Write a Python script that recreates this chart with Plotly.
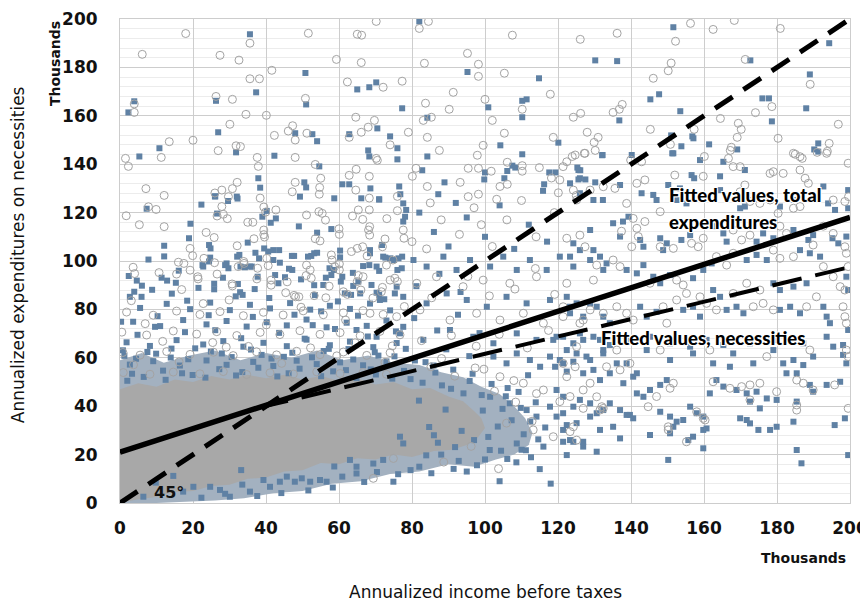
import plotly.graph_objects as go

# ---------------- data (thousands) ----------------
# Necessities (filled squares)
nec_top = [(35.6,193.7),(37.3,169.7),(26.3,166.2),(3.9,166),(2.3,161.4),(26.9,153.2),(48,152.8),(10.8,146.6),(31.8,144.9),(5.3,143.2),(42.3,143.5),(37.9,134.2),(38.4,130.3),(26,126.7),(32,126.6),
 (82,199),(130.2,182.9),(50.8,177.7),(95.2,178.1),(114.8,175.5),(65,170.9),(68.3,171.8),(70.2,173.8),(51,164.7),(77.3,163.1),(100.9,163.5),(110.2,166.2),(111.4,166.8),(110.2,159.4),(84.2,159.2),(52.7,152.4),(54,149.5),(62.8,152.4),(70.5,154.8),(74,151.5),(120.1,148.9),(76,146.6),(68,145.7),(68.3,143.2),(76,142),(84.2,143.2),(104.2,147.8),(110.2,144.1),(54.6,139.1),(82.8,137.5),(50.5,132.5),(51,130.4),(60.9,131.7),(62.8,131.7),(68.6,130),(100,136.6),(99.8,133.7),(106.1,137.2),(105.3,134.2),(107.5,139.4),(108.3,138.6),(117.6,136.6),(119.3,136.6),(116.2,131.7),(115.9,129),(125.3,138.6),(126.1,137.5),(125.6,133.7),(127.5,133.7),(130.2,132.5),(88.9,132.5),(87.2,127.6),(76.5,130.8),(76.8,127.6),(58.7,125.9),(66.1,125.9),(71,125.5),
 (151.6,196.6),(136.2,182.6),(172.7,182.9),(194.3,190),(189,177.1),(145.3,166.8),(147.7,168.9),(136.8,158.1),(153.5,161.9),(176,167.2),(177.8,167.2),(188,163.1),(178.6,157.7),(151,151.9),(156.8,151.5),(157.1,150.7),(153.8,147.4),(151.3,144.5),(161.4,148.2),(169.1,146.1),(191.3,148.6),(190.2,146.1),(132.1,143.7)]
nec_upper_left = [(49.3,126.6),(71,125.4),(7.3,121.6),(19.3,115.4),(22.3,123.3),(26.1,126.7),(29.6,124.8),(32.2,125.8),(26.6,119.6),(39,118.3),(40.2,120.7),(41.3,115.8),(42.7,117.6),(49,114.3),(57.9,113.2),(54,111.7),(77.6,123.8),(78.4,121.1),(78.1,118.3),(77.6,116.3),(18.9,109.4),(24.4,106.6),(24.8,105.2),(12.1,106.3),(12.1,101.9),(7.8,100.6),(4.6,91.9),(6,89.8),(3.9,87.3),(2.7,85.2),(5.9,85.2),(11.4,93.1),(12.9,91.9),(15.3,91),(16.1,96),(22.6,98.3),(22.8,97.7),(24.7,101.4),(24.4,99.8),(25.8,90.6),(25.8,88.3),(29.2,99),(29.7,97),(28.8,98.3),(32.1,101.8),(32.7,102.5),(33,97.7),(34.2,97.4),(35,107.6),(32.3,90.5),(32.9,87.1),(33.6,86),(37.1,103.4),(36.1,97.7),(35.6,97.7),(37.7,93.5),(39.5,105.2),(38.1,101.1),(40.6,103.9),(42,104.5),(43.6,104.5),(42,100.4),(43.8,99.3),(42.5,94.2),(43.4,90.8),(47.1,102.1),(47.7,102.1),(47.2,96.3),(45.2,93.3),(49.6,92.4),(51.5,101.8),(52.4,102.1),(53.2,103.2),(53.2,90),(54,103.4),(55.7,90.1),(56.4,93.1),(57.4,97),(58.6,96.3),(57.9,94.2),(60.3,104.3),(60.3,101.5),(60.9,93.5),(60.5,91.5),(61.6,86.6),(63.3,86),(63.9,89.7),(65.3,91.5),(66.6,97.9),(68.3,98.3),(68.5,104.5),(68.5,103.2),(68.9,90.1),(70.3,97.7),(71,95.9),(71.8,106.6),(72.1,101.8),(72.7,101.4),(74,101.1),(75.1,100.4),(76.3,101.1),(77.3,101.8),(76,96.3),(77.2,97),(75.8,89.4),(75.3,86.6),(70.3,86.9),(71,86),
 (82,120),(86,112),(90,106),(95,118),(100,110),(104,123),(108,105),(112,115),(117,108),(92,124)]
nec_right = [(132.2,143.8),(140.2,143.8),(151.6,144.5),(158.9,141.7),(165.3,141),(171.2,137.6),(191.3,145.2),(125.6,137.6),(126,134.2),(137,131.4),(146.1,127.3),(150.2,131.4),(153.4,130),(156.6,135.5),(157.3,134.2),(164.4,135),(164.4,129.3),(192.7,130.8),(199.5,129.3),(199.5,121.8),(123.3,132.1),(129.7,125.2),(132.3,125.2),(126,128),(142.9,128),(139.3,118.3),(152.5,125.2),(155.2,123.8),(147,125.2),(169.9,121.8),(171.2,122.5),(180.8,122.5),(184.5,125.2),(194,123.8),(195.9,121.1),
 (128.8,112.8),(135.1,115.6),(137.8,116.3),(137,110.1),(142.5,108.7),(143.4,105.9),(148,109.4),(149.8,107.3),(148.8,104.5),(153.8,108.7),(156.2,110.7),(162.5,114.4),(165.3,111.4),(166.2,108),(174.4,108),(176.2,111.4),(179,109.4),(184.5,112.8),(188.6,108.7),(189.9,110.7),(195.2,109.4),(196.8,107.3),(199,110.1),(124.2,107.3),(126,104.5),(123.3,101.8),(129.7,104.5),(131.5,101.8),(133.3,99),(138.8,96.3),(141.6,94.9),(143.4,98.3),(146.1,93.5),(148,90.8),(150.7,94.2),(157,92.9),(159.8,96.3),(162.1,99),(171.7,100.4),(174.4,102.5),(177.2,100.4),(186.3,104.5),(189,103.2),(191.8,101.8),(199,93.5),(199.5,88),(179,90.8),(180.8,88),(184.5,89.4),(188.1,90.8),(162.5,88),(164.4,85.2),
 (122.4,85.2),(125.1,82.5),(123.3,78.4),(126.9,77),(130.6,81.1),(132.4,77),(134.2,74.3),(142.5,81.1),(144.3,77),(147,79),(154.3,79.8),(157,81.1),(158.9,77),(166.2,79.8),(168.9,81.1),(170.8,78.4),(180.8,79.8),(183.6,81.1),(186.3,78.4),(192.7,81.1),(193.6,77),(194.5,74.3),(199.5,71.5),
 (122.4,63.2),(127.8,60.5),(132.4,61.8),(138.8,57.7),(144.3,63.2),(150.7,59.1),(157,61.8),(162.5,57.7),(168,61.8),(173.5,57.7),(179,63.2),(184.5,59.1),(189.9,60.5),(195.4,64.6),(199,57.7),
 (118.7,67.4),(121.4,68.7),(124.2,66),(126.9,67.4),(129.7,68.7),(134.2,65.3),(138.8,67.4),(145.2,68.7),(150.7,66),(156.2,64.6),(160.7,67.4),(165.3,65.3),(172.6,66),(179.9,67.4),(187.2,66),(193.6,68.7),(198.1,65.3)]
nec_lower_right = [(120.5,59.1),(119.2,56.3),(122.4,54.3),(124.2,58.4),(126.9,53.6),(129.7,55),(131.5,50.8),(134.2,53.6),(136.1,57.7),(137.9,49.5),(140.6,52.2),(141.6,53.6),(119.6,46.7),(121.4,43.9),(124.2,39.8),(126,42.6),(128.8,41.2),(130.6,37.1),(132.4,38.4),(134.2,41.2),(137,38.4),(139.7,36.4),(119.6,35.7),(121.4,30.2),(123.3,26),(124.2,25.3),(126.9,25.3),(122.4,32.2),(130.6,21.2),(122.4,19.8),(135.1,31.5),(137,26.7),(138.8,36.4),(140.6,35),(141.6,45.3),(143.4,43.9),(145.2,46.7),(148,48.8),(149.8,50.8),(148,37.7),(150.7,35.7),(151.6,31.5),(150.7,28.8),(152.5,33.6),(150.2,17.8),(145.2,28.1),(154.3,34.3),(156.2,39.8),(158,37.1),(159.8,35.7),(157,27.4),(155.7,26),(159.8,30.2),(160.7,30.8),(159.8,22.6),(161.6,45.3),(163.4,50.8),(165.3,48.1),(168.9,46.7),(167.1,56.3),(171.7,45.3),(174.4,46),(172.6,41.9),(175.3,39.1),(177.2,43.2),(179.9,42.6),(169.9,35),(171.7,34.3),(172.6,32.9),(174.9,30.2),(178.1,30.2),(179.9,31.5),(185.4,41.9),(184.5,33.6),(185.4,21.9),(186.7,16.4),(181.7,57.7),(182.6,53.6),(185.4,53.6),(187.2,57),(189,48.8),(189.9,46),(193.6,48.8),(197.3,50.1),(195.8,32.2),(198.6,35),(199.5,19.8),(198.1,61.2)]
nec_middle = [(80.4,100.4),(84,97.7),(88.6,101.8),(92.2,96.3),(95.9,100.4),(101.4,97.7),(105,101.8),(108.7,96.3),(112.3,100.4),(116.9,96.3),(120.5,101.8),(124.2,97.7),(128.8,100.4),(132.4,96.3),
 (65.8,86.6),(71.2,83.9),(77.6,85.2),(84,82.5),(89.5,86.6),(95,83.9),(100.5,81.1),(105.9,85.2),(111.4,82.5),(117.8,83.9),(123.3,81.1),(128.8,82.5),
 (64.8,71.5),(70.3,68.7),(76.7,70.1),(83.1,67.4),(90.4,71.5),(96.8,68.7),(102.3,66),(108.7,70.1),(114.1,67.4),(119.6,68.7),(126,70.1),(131.5,67.4),
 (102.3,60.5),(105.9,57.7),(108.7,61.8),(112.3,59.1),(115.1,56.3),(117.8,60.5),(121.4,57.7),(125.1,61.8),(128.8,59.1),(132.4,63.2),
 (101.4,43.9),(106.8,41.2),(111.4,38.4),(114.1,35.7),(117.8,39.8),(121.4,37.1),(125.1,33),(128.8,35.7),(131.5,30.2),
 (108.7,24.6),(116,23.3),(121.4,25.3),(126.9,23.3)]
nec_left = [(5.5,80.6),(12.8,82.3),(19.2,80.1),(24.7,82.8),(30.1,79.7),(35.6,81.9),(41.1,80.4),(46.6,82.6),(52.1,79.9),(57.5,81.5),(63,80.2),(68.5,82.4),(74,79.6),
 (3.6,74.9),(11,73.1),(17.3,75.6),(23.7,73.8),(29.2,75.2),(34.7,72.9),(40.2,74.7),(45.7,73.4),(51.1,75.8),(56.6,72.6),(62.1,74.5),(67.6,73.2),(73,75.4),(77.6,72.8),
 (1.8,66.4),(8.2,64.9),(15.5,67.3),(22.8,65.5),(28.3,66.9),(33.8,64.6),(39.3,66.2),(45.7,64.8),(51.1,67.5),(57.5,65.2),(63,66.7),(69.4,64.4),(75.8,66.1),
 (2.7,57.2),(9.1,58.6),(16.4,56.8),(23.7,58.9),(29.2,57.1),(36.5,58.3),(42,56.6),(48.4,58.8),(53.9,57.4),(60.3,58.1),(66.6,56.9),(73,58.5),(0.3,74.9),
 (24.7,6.7),(27.4,5.4),(30.1,2.6),(35.6,4.7),(39.3,9.5),(43.8,8.8),(45.7,10.9),(47.9,8.8),(49.8,10.2),(52.1,8.8),(54.8,9.5),(56.6,8.8),(41.1,6.7),(64.8,12.2),(69.4,16.3),(72.1,17.8),(74.9,8.8),(63,17.8),(64.8,15),(76.7,27.4),(77.6,24.6),(6.4,2.6),(20.1,6.7),(17.3,4.7),
 (82,15),(88,20),(91.8,23.1),(95,13),(100,18),(104,9),(110,22),(115,14),(118,8),(86,28),(97,26)]
nec_dense = [(1.2,60.8),(4.8,69.5),(7.5,62.4),(10.3,77.2),(13.9,60.1),(14.2,86.5),(17.8,70.6),(20.6,63.9),(21.5,88.9),(26.1,71.4),(27.9,61.8),(31.7,85.4),(33.2,68.1),(36.4,76.9),(38.8,61.2),(40.9,84.7),(43.6,70.3),(44.9,60.4),(47.8,77.8),(50.6,67.9),(53.4,85.9),(55.8,62.8),(58.9,71.9),(59.7,83.3),(62.6,63.6),(65.2,77.4),(67.9,68.8),(70.8,60.9),(72.4,84.2),(75.6,70.9),(78.3,63.7),(80.6,76.4),(83.7,58.2),(86.9,71.3),(89.4,63.5),(92.6,77.8),(95.7,60.7),(98.5,70.2),(2.4,93.8),(8.8,88.1),(18.4,83.6),(28.2,93.1),(36.9,88.4),(46.3,96.8),(55.1,79.2),(63.8,95.1),(9.6,72.8),(24.3,77.6),(52.8,73.5),(81.2,89.6),(87.5,94.7),(93.3,87.2),
 (3.3,53.4),(11.8,54.7),(19.9,52.9),(33.5,54.1),(46.2,53.6),(58.4,54.4),(70.1,53.1),(79.6,51.2),(88.2,48.6),(94.1,45.3),(99.4,38.2),(103.5,31.6),(106.2,47.5),(111.8,52.8),(9.8,8.4),(14.6,11.2),(33.2,13.6),(58.7,15.1),(83.9,19.7),(92.8,17.4),(101.3,21.9),(108.6,16.8)]
nec_fringe = [(2,50.5),(6.5,52.1),(12.5,50.9),(17,53.6),(23.4,51.8),(27.2,55.3),(31.8,52.7),(37.9,55.9),(43.1,52.3),(49.2,55.5),(55.1,52.4),(61.9,54.9),(64.8,51.6),(68.7,55.2),(74.6,51.4),(77.8,54.6),(82.9,49.7),(86.4,53.9),(90.7,47.2),(95.8,50.4),(99.1,44.6),(104.8,38.9),(107.3,34.2),(110.6,28.4),(113.9,41.6),(116.5,31.2),(109.2,45.9),(100.9,27.3),(104.4,21.6),(112.6,18.9),(97.8,15.6),(91.4,14.1),(85.3,12.3),(79.6,13.6),(76.2,11.9),(70.4,12.8),(66.9,8.7),(60.9,10.9),(58.3,6.4),(51.6,5.2),(44.2,4.1),(37.6,2.9),(33.5,7.6),(28.8,3.8),(22.3,2.2),
 (0.8,63.1),(4.4,59.6),(9.9,61.7),(14.1,63.8),(18.7,59.4),(24.9,62.6),(30.6,60.3),(35.9,63.4),(41.5,59.7),(47.2,62.1),(52.6,60.2),(57.2,63.7),(63.9,59.3),(69.8,62.3),(75.2,60.6),(80.8,58.9),(85.9,56.8),(91.3,55.1),(96.6,53.4),(101.8,49.2),(105.7,44.1),(109.8,39.3),(112.4,33.7),(114.6,26.3),(111.2,21.8),(106.1,18.2),
 (84.7,31.4),(89.2,38.6),(93.6,29.8),(81.9,42.3),(87.1,24.9)]

# Total expenditures (open circles)
tot_top = [(18,194),(35.6,190),(6.1,185.4),(27.4,185),(32.6,183),(41.6,178.8),(35.6,175.3),(38.2,175.3),(26.3,168),(30.8,166.8),(3.9,164.9),(3.9,161.4),(34.5,160.6),(40.1,160.2),(30.1,156.5),(42.3,151.9),(46.1,153.7),(47.3,155.9),(48,150),(13.5,149.3),(20,149.9),(26.9,145.6),(31.8,147.6),(33,147.3),(1.5,142.4),(2.3,139.1),(11.3,142.8),(37.6,142.8),(37.9,139.1),(48,142.8),(48,132.5),(32.1,132.5),(7.1,129.9),(12.1,127.1),(26,128.1),(27.9,129.3),(30.8,129.9),(29.7,126.6),(47.2,128.6),
 (51.6,194.1),(65,193.7),(66.2,193.3),(70.2,199),(84.5,199),(82,196.1),(107.5,193.3),(126.1,191.6),(59.3,183.3),(66.1,182),(83.4,181.7),(95.2,185.8),(98.2,181.3),(98.2,176.3),(105.3,177.6),(62.3,174),(72.1,171.8),(77.3,174.3),(91.3,169.7),(117.9,168.9),(50.8,167.2),(83.7,165.2),(90.2,162.7),(100,166.8),(110.2,162.7),(124.2,159.4),(126.2,161),(64.6,159.4),(69.7,158.1),(83.1,158.1),(85.3,159.4),(102,158.1),(51.2,152.8),(62.8,151.1),(66.1,153.2),(68,155.3),(79,153.2),(84.2,151.1),(105.3,152.8),(118.7,151.1),(128,153.2),(129.9,149),(130.2,145.7),(131,151.1),(74,148),(70.2,142.4),(70.5,141.6),(87.5,145.7),(99.5,147.8),(97.9,143.7),(123.9,143.2),(127.2,144.5),(53.5,139.9),(62.8,135.4),(64.7,137.9),(68.3,135),(80.1,135),(81.1,138.3),(55,134.2),(54.7,130.4),(54.6,127.6),(64.6,129.3),(93.2,132.5),(95.4,138.3),(98.2,138.3),(101.7,137.1),(106.1,140.8),(104.1,130.8),(106.1,131.7),(110.2,139.4),(110.2,137.1),(114.9,138.6),(118.2,134.3),(120.1,128.2),(125,127.1),(98.2,127.6),(95.4,126.6),(76,126.7),(84.2,130.8),(103.2,125.5),
 (136.2,194.1),(156.3,198.2),(152.2,190.8),(162.5,195.7),(168.3,199.4),(180.9,196.1),(151,181.8),(150.2,178.6),(171.3,183.3),(146.1,175.5),(189.1,173),(135.1,161.4),(136.8,162.7),(137.6,164.7),(178.6,163.8),(174.1,161.3),(164.5,158.9),(169.4,156.9),(170.2,154.4),(169.1,151.1),(196.8,156.5),(145.3,154.4),(157.3,154.4),(150.8,148.2),(167.5,147),(167.2,145.7),(180.3,150.7),(185,144.1),(186.9,142.4),(191,144.9),(194.3,148.6),(193.8,145.3),(160.1,143.2),(139.9,141.7)]
tot_upper_left = [(38.4,126),(68.3,126),(7.8,122.4),(9.9,121.3),(1.7,118.7),(5.3,115),(12.1,114.2),(27.9,122.5),(26.6,118.6),(28.3,119.3),(29.4,117.5),(35,116),(36.4,116),(23.6,111.8),(25.8,109.7),(39.4,122.3),(39.9,120.2),(42.7,121.1),(39.4,112.8),(39.4,110.9),(39.6,109.9),(51.1,119),(54.5,120.4),(55.4,119.7),(56.3,116.9),(60,113.3),(60.1,111),(53.5,109.2),(54.8,108.3),(63.7,118.6),(65.3,121.1),(66.5,117.2),(68.3,121.1),(68.1,112.8),(68.4,110.7),(68.4,114.2),(73.1,117.5),(76,120.8),(77.6,112.8),(77.8,109.4),(19.2,105.2),(19.9,102.2),(3.6,97.4),(4,94.8),(10.7,95.2),(16,99.5),(17.5,99),(15.5,94.6),(19.2,96.2),(21.3,93.5),(21.4,92.6),(23,101.1),(26.6,94.6),(25.9,99.3),(30.7,90.5),(30.8,89.7),(32.4,97.7),(33.9,99.8),(34,99),(32.1,106.3),(36.7,109.2),(37.7,97),(37.5,92.6),(40.2,101.1),(40.6,98.1),(41.4,92.1),(41.4,90),(45.4,86.9),(47.7,85.8),(49,85.2),(48.1,85.2),(51.1,98.3),(52.1,96.3),(52.4,92.9),(51,94),(53.2,85.7),(56.4,84.8),(57.9,102.5),(58.1,100.4),(58.8,97.7),(60.1,98.8),(60.1,96.3),(61.2,87.3),(62.3,86.2),(63.4,103.9),(65,105.2),(66.5,105.9),(65.3,94),(65,91.5),(67.7,102.1),(66,88),(72.6,109.1),(71.9,105.9),(73,98.3),(74.8,100.4),(75.3,92.9),(76,91.5),(71.9,89.1),(71.6,87.3),
 (80,108),(85,124),(88,117),(93,111),(97,122),(102,106),(106,117),(110,125),(114,110),(119,120),(84,105),(99,115)]
tot_right = [(124.7,143.8),(127.4,144.5),(142.9,141),(152,135.5),(166.7,142.4),(168,139),(169.9,139),(178.1,136.2),(179,136.9),(184.5,144.5),(186.3,143.1),(193.6,144.5),(199.5,140.4),(135.6,130),(141.6,132.1),(143.8,133.5),(159.8,135),(181.7,136.2),(186.3,137.6),(187.7,134.2),(188.6,132.1),(198.6,124.6),(199.6,126.6),(121.4,139),(122.4,141),(120.5,133.5),(124.2,129.3),(125.1,125.2),(128.8,129.3),(132.4,130.7),(138.8,123.8),(140.6,117.6),(143.8,116.3),(148,120.4),(171.2,131.4),(169.9,128.6),(172.6,124.6),(175.3,123.8),(178.1,125.2),(180.3,119.7),(184.5,121.8),(186.3,122.5),(195.4,125.2),
 (137.4,112.3),(141.6,113.5),(142,110.1),(140.2,105.9),(148,105.9),(151.6,105.2),(156.6,107.3),(158.4,105.9),(159.8,109.4),(168,112.8),(170.3,108.7),(172.6,110.7),(180.8,114.4),(182.6,111.4),(189.9,106.6),(192.7,114.4),(195.4,111.4),(198.6,105.9),(199,103.2),(199.5,97.7),(122.4,109.4),(126,110.7),(127.4,105.9),(130.6,98.3),(135.1,100.4),(137,97.7),(145.2,90.8),(152.5,92.1),(154.3,90.1),(163.4,101.8),(166.2,98.3),(168,103.2),(179,104.5),(180.8,101.1),(184.5,101.8),(192.7,97.7),(195.4,93.5),(197.3,89.4),(198.6,88),(171.7,90.8),(175.3,88),(168,86.6),(158.9,85.2),(155.2,86.6),
 (121.4,81.1),(126,74.3),(128.8,79.8),(136.1,81.1),(138.8,78.4),(140.6,75.6),(148.8,81.1),(152.5,83.9),(149.8,74.3),(160.7,82.5),(163.4,79.8),(173.5,81.1),(176.2,82.5),(179,79.8),(188.1,81.1),(190.8,85.2),(198.1,81.1),(198.6,77),(199,74.3),
 (125.1,64.6),(136.1,63.2),(148,63.2),(161.6,63.2),(177.2,60.5),(189,63.2),(199,63.2),
 (121.4,57.7),(124.7,56.3),(128.8,49.5),(133.3,56.3),(137,55),(139.7,57.7),(120.5,41.9),(123.3,44),(126.9,39.1),(131.5,38.4),(132,39.8),(123.3,29.5),(124.2,31.5),(132.4,39.1),(144.7,39.8),(147,44),(150.7,47.4),(151.6,49.5),(150.2,30.2),(150.2,31.5),(155.2,25.3),(158,37.7),(159.8,35),(160.3,34.3),(162.5,50.1),(167.1,47.4),(170.3,48.1),(172.6,48.8),(175.3,49.5),(172.6,42.6),(179.9,46),(185.4,38.4),(185.4,40.5),(185.4,50.8),(187.2,49.5),(189.9,46.7),(195.8,48.8),(199.5,39.1),(199.5,60.5)]
tot_left = [(66.6,93.5),(74,92.1),(81.3,90.8),(86.7,93.5),(94,89.4),(99.5,92.1),(106.8,90.8),(114.1,93.5),(122.4,90.8),(129.7,92.1),
 (68.5,78.4),(75.8,77),(82.2,79.8),(90.4,75.6),(97.7,78.4),(104.1,75.6),(110.5,78.4),(116,74.3),(121.4,77),(126.9,75.6),(132.4,78.4),
 (104.1,52.2),(110.5,49.5),(116,46.7),(122.4,52.2),(126.9,46.7),(130.6,43.9),(105.9,33),(113.2,30.2),(118.7,27.4),(125.1,26),
 (1.8,78.9),(9.1,77.6),(15.5,79.3),(21.9,77.9),(27.4,79.1),(33.8,77.4),(39.3,78.8),(44.7,77.7),(50.2,79.4),(55.7,77.8),(61.2,78.6),(66.6,79.5),(72.1,77.9),
 (0.5,70.6),(7.3,69.4),(14.6,71.1),(21,69.8),(26.5,70.8),(32,69.2),(38.4,70.5),(43.8,69.6),(49.3,71.2),(54.8,69.7),(60.3,70.4),(65.8,69.1),(71.2,70.9),(76.7,69.5),
 (0.8,62.2),(5.5,61.1),(12.8,62.6),(19.2,61.4),(25.6,62.3),(31,60.9),(37.4,62.5),(42.9,61.2),(48.4,62.7),(54.8,61.3),(61.2,62.4),(67.6,61),(74,62.1),
 (0.9,53.9),(8.2,53.2),(14.6,54.1),(21.9,53.4),(28.3,54.3),(34.7,53.1),(41.1,53.8),(47.5,53.3),(53.9,54.2),(60.3,53.5),(66.6,53.9),(73,53.2),
 (69.4,10.2),(74.9,18.4)]
tot_dense = [(3.1,83.6),(6.9,74.1),(11.7,66.8),(16.9,88.2),(22.8,82.4),(25.4,66.3),(29.9,83.9),(35.2,64.7),(40.1,73.6),(45.8,91.4),(49.6,80.9),(52.2,64.1),(57.3,89.6),(61.8,75.6),(64.4,66.2),(69.3,84.7),(74.6,64.9),(77.9,81.2),(82.6,67.1),(85.4,84.8),(90.8,69.2),(95.3,93.6),(97.6,64.8),(101.2,85.6),(103.9,69.7),(108.2,88.4),(111.6,64.1),(113.8,96.9),(117.4,71.3),(119.1,86.2),
 (85.2,56.3),(91.7,52.4),(97.3,55.8),(102.6,46.2),(108.4,41.7),(112.9,33.8),(96.2,23.4),(88.7,16.9),(103.7,14.2),
 (3.7,57.1),(16.2,58.3),(29.1,64.4),(44.3,57.7),(59.4,60.8),(72.6,58.1),(88.1,59.7),(99.7,55.3),(107.9,50.6),(114.1,45.2)]

# Dense overlapping region outlines (where markers merge into solid areas)
halo_x = [0, 6, 12, 19, 26, 33, 40, 47, 54, 61, 68, 75, 82, 88, 94, 99, 104, 108, 111, 113, 112, 108, 103, 97, 90, 82, 74, 66, 58, 50, 42, 34, 26, 18, 10, 0]
halo_y = [59, 62, 58, 61, 63, 59, 62, 60, 63, 59, 61, 58, 57, 54, 52, 48, 45, 40, 35, 29, 24, 20, 18, 15, 16, 13, 12, 9, 8, 5, 4, 2, 1, 0.5, 0, 0]
core_x = [0, 5, 10, 15, 20, 25, 30, 35, 40, 45, 50, 55, 60, 65, 70, 75, 80, 85, 90, 94, 97, 99, 100, 98, 95, 91, 86, 80, 75, 70, 65, 60, 55, 50, 45, 40, 35, 30, 25, 20, 15, 10, 5, 0]
core_y = [47, 49.5, 48, 51, 50, 52.5, 51, 53, 51.5, 53, 51, 52.5, 50.5, 51.5, 49, 50, 47, 47.5, 44, 42, 38, 35, 31, 27, 24, 22, 21.5, 19, 20, 18, 18.5, 16, 16.5, 13.5, 13, 10.5, 10, 7.5, 7, 5, 4.5, 2.5, 1.5, 0]

# Fitted lines and 45-degree reference
diag_x = [0, 200]
diag_y = [0, 200]
fit_total_x = [0, 200]
fit_total_y = [21, 118]
fit_nec_x = [38, 200]
fit_nec_y = [39.4, 97.5]

ticks = list(range(0, 201, 20))

# ---------------- figure ----------------
def xs(pts):
    return [p[0] for p in pts]

def ys(pts):
    return [p[1] for p in pts]

nec = nec_top + nec_upper_left + nec_right + nec_lower_right + nec_middle + nec_left + nec_dense + nec_fringe
tot = tot_top + tot_upper_left + tot_right + tot_left + tot_dense

SQ = "#5f81a4"
CI = "#a3a3a3"

fig = go.Figure()
fig.add_trace(go.Scatter(x=halo_x, y=halo_y, fill="toself", fillcolor="#a3b1c0",
                         line=dict(width=0), mode="lines", hoverinfo="skip", showlegend=False))
fig.add_trace(go.Scatter(x=core_x, y=core_y, fill="toself", fillcolor="#a8a8a8",
                         line=dict(width=0), mode="lines", hoverinfo="skip", showlegend=False))
fig.add_trace(go.Scatter(x=xs(nec), y=ys(nec), mode="markers",
                         marker=dict(symbol="square", size=6, color=SQ, line=dict(width=0)),
                         showlegend=False))
fig.add_trace(go.Scatter(x=xs(tot), y=ys(tot), mode="markers",
                         marker=dict(symbol="circle-open", size=8, color=CI, line=dict(width=1, color=CI)),
                         showlegend=False))
fig.add_trace(go.Scatter(x=diag_x, y=diag_y, mode="lines",
                         line=dict(color="black", width=5, dash="21px,13px"), showlegend=False))
fig.add_trace(go.Scatter(x=fit_total_x, y=fit_total_y, mode="lines",
                         line=dict(color="black", width=5.5), showlegend=False))
fig.add_trace(go.Scatter(x=fit_nec_x, y=fit_nec_y, mode="lines",
                         line=dict(color="black", width=4, dash="30px,14px"), showlegend=False))

tickfont = dict(family="DejaVu Sans", size=17, color="#111111", weight="bold")
axis_common = dict(range=[0, 200], tickvals=ticks, ticktext=[str(t) for t in ticks],
                   showgrid=True, gridcolor="#cdcdcd", gridwidth=1, zeroline=False,
                   showline=True, linecolor="#cdcdcd", linewidth=1, mirror=True,
                   tickfont=tickfont, ticks="", automargin=False)
fig.update_xaxes(**axis_common, ticklabelstandoff=10)
fig.update_yaxes(**axis_common, ticklabelstandoff=18,
                 minor=dict(dtick=4, showgrid=True, gridcolor="#ececec", gridwidth=1))

halo = "1px 1px 0 #fff, -1px -1px 0 #fff, 1px -1px 0 #fff, -1px 1px 0 #fff"
lab_font = dict(family="Lato", size=18.5, color="black", weight=900, shadow=halo)
annots = [
    dict(x=149.9, y=127.3, xref="x", yref="y", text="Fitted values, total", showarrow=False,
         xanchor="left", yanchor="middle", font=lab_font),
    dict(x=149.9, y=116.3, xref="x", yref="y", text="expenditures", showarrow=False,
         xanchor="left", yanchor="middle", font=lab_font),
    dict(x=131.2, y=68.3, xref="x", yref="y", text="Fitted values, necessities", showarrow=False,
         xanchor="left", yanchor="middle", font=lab_font),
    dict(x=8.8, y=4.2, xref="x", yref="y", text="45°", showarrow=False,
         xanchor="left", yanchor="middle",
         font=dict(family="DejaVu Sans", size=16, color="#111111", weight="bold")),
    dict(x=0.997, y=-0.113, xref="paper", yref="paper", text="Thousands", showarrow=False,
         xanchor="right", yanchor="middle",
         font=dict(family="DejaVu Sans", size=14, color="#111111", weight="bold")),
    dict(x=-0.089, y=0.907, xref="paper", yref="paper", text="Thousands", showarrow=False,
         textangle=-90, xanchor="center", yanchor="middle",
         font=dict(family="DejaVu Sans", size=14, color="#111111", weight="bold")),
    dict(x=0.5, y=-0.184, xref="paper", yref="paper", text="Annualized income before taxes",
         showarrow=False, xanchor="center", yanchor="middle",
         font=dict(family="DejaVu Sans", size=17, color="#111111")),
    dict(x=-0.1397, y=0.512, xref="paper", yref="paper", text="Annualized expenditures on necessities",
         showarrow=False, textangle=-90, xanchor="center", yanchor="middle",
         font=dict(family="DejaVu Sans", size=17, color="#111111")),
]
# The page places the figure 8px from the top-left corner, so the figure is
# sized to end exactly at the 868x604 window edge.
fig.update_layout(width=860, height=596, margin=dict(l=112, r=18, t=11, b=101),
                  plot_bgcolor="white", paper_bgcolor="white", annotations=annots,
                  showlegend=False)
fig.write_html("out.html")
